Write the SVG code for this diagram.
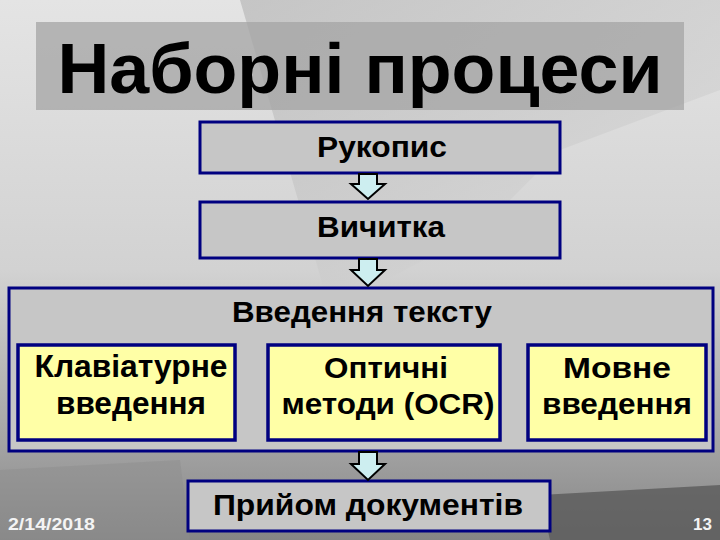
<svg xmlns="http://www.w3.org/2000/svg" width="720" height="540" viewBox="0 0 720 540">
<defs>
<linearGradient id="bg" x1="0" y1="0" x2="0" y2="1">
<stop offset="0" stop-color="#e4e4e4"/>
<stop offset="0.5" stop-color="#d2d2d2"/>
<stop offset="0.82" stop-color="#a4a4a4"/>
<stop offset="1" stop-color="#858585"/>
</linearGradient>
<linearGradient id="sh" x1="0" y1="0" x2="1" y2="1">
<stop offset="0" stop-color="#b8b8b8"/>
<stop offset="1" stop-color="#dedede"/>
</linearGradient>
<style>
.box{fill:#c6c6c6;stroke:#000080;stroke-width:3}
.yel{fill:#ffffa6;stroke:#000080;stroke-width:3.5}
.t{font-family:"Liberation Sans",Arial,sans-serif;font-weight:bold;fill:#000;text-anchor:middle}
.arr{fill:#cdeef0;stroke:#000;stroke-width:2;stroke-linejoin:miter}
.foot{font-family:"Liberation Sans",Arial,sans-serif;font-weight:bold;fill:#f4f4f4}
</style>
</defs>
<g id="background">
<rect x="0" y="0" width="720" height="540" fill="url(#bg)"/>
<polygon points="240,0 720,0 720,90 560,150 480,230 330,310" fill="url(#sh)" opacity="0.7"/>
<polygon points="540,495 720,485 720,540 550,540" fill="#5a5a5a" opacity="0.8"/>
<polygon points="0,470 180,460 190,540 0,540" fill="#8e8e8e" opacity="0.5"/>
</g>
<g id="title">
<rect x="36" y="22" width="648" height="88" fill="#a4a4a4" opacity="0.75"/>
<text class="t" x="360" y="93" font-size="71" textLength="605" lengthAdjust="spacingAndGlyphs">Наборні процеси</text>
</g>
<g id="rukopys">
<rect class="box" x="200" y="122" width="360" height="51"/>
<text class="t" x="382" y="157" font-size="29" textLength="130" lengthAdjust="spacingAndGlyphs">Рукопис</text>
</g>
<g id="vychytka">
<rect class="box" x="200" y="202" width="360" height="56"/>
<text class="t" x="381" y="237" font-size="30" textLength="128" lengthAdjust="spacingAndGlyphs">Вичитка</text>
</g>
<g id="vvedennia">
<rect class="box" x="9" y="288" width="704" height="163"/>
<text class="t" x="362" y="322" font-size="30" textLength="260" lengthAdjust="spacingAndGlyphs">Введення тексту</text>
</g>
<g id="klaviaturne">
<rect class="yel" x="18" y="345" width="217" height="95"/>
<text class="t" x="131" y="377" font-size="31" textLength="193" lengthAdjust="spacingAndGlyphs">Клавіатурне</text>
<text class="t" x="131" y="414" font-size="31" textLength="150" lengthAdjust="spacingAndGlyphs">введення</text>
</g>
<g id="optychni">
<rect class="yel" x="268" y="345" width="232" height="95"/>
<text class="t" x="386" y="378" font-size="29" textLength="124" lengthAdjust="spacingAndGlyphs">Оптичні</text>
<text class="t" x="388" y="414" font-size="29" textLength="213" lengthAdjust="spacingAndGlyphs">методи (OCR)</text>
</g>
<g id="movne">
<rect class="yel" x="528" y="345" width="178" height="95"/>
<text class="t" x="617" y="378" font-size="30" textLength="108" lengthAdjust="spacingAndGlyphs">Мовне</text>
<text class="t" x="617" y="414" font-size="30" textLength="150" lengthAdjust="spacingAndGlyphs">введення</text>
</g>
<g id="pryiom">
<rect class="box" x="188" y="481" width="362" height="50"/>
<text class="t" x="368" y="515" font-size="30" textLength="310" lengthAdjust="spacingAndGlyphs">Прийом документів</text>
</g>
<g id="connectors">
<polygon class="arr" points="359,174 377,174 377,184 385,184 368,199 351,184 359,184"/>
<polygon class="arr" points="359,259 377,259 377,270 385,270 368,286 351,270 359,270"/>
<polygon class="arr" points="359,452 377,452 377,464 385,464 368,480 351,464 359,464"/>
</g>
<g id="footer">
<text class="foot" x="8" y="530" font-size="17" textLength="87" lengthAdjust="spacingAndGlyphs">2/14/2018</text>
<text class="foot" x="712" y="530" font-size="17" text-anchor="end">13</text>
</g>
</svg>
